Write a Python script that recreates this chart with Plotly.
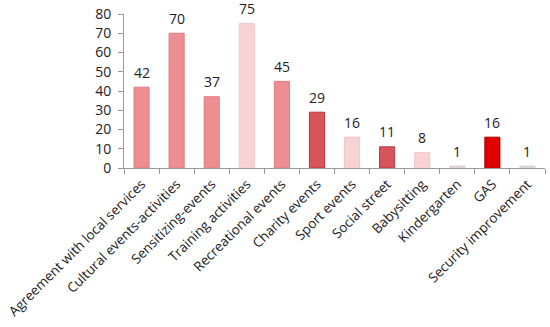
import plotly.graph_objects as go

categories = ["Agreement with local services", "Cultural events-activities", "Sensitizing-events",
              "Training activities", "Recreational events", "Charity events", "Sport events",
              "Social street", "Babysitting", "Kindergarten", "GAS", "Security improvement"]
values = [42, 70, 37, 75, 45, 29, 16, 11, 8, 1, 16, 1]
fill_colors = ["#EE8E92", "#EE8E92", "#EE8E92", "#F8D3D4", "#EE8E92", "#D6545A",
               "#F8D3D4", "#D6545A", "#F8D3D4", "#E6DCDC", "#E00000", "#E6DCDC"]
line_colors = ["#DC7C80", "#DC7C80", "#DC7C80", "#F0C6C7", "#DC7C80", "#B8393F",
               "#F0C6C7", "#B8393F", "#F0C6C7", "#D8CCCC", "#A00000", "#D8CCCC"]
y_ticks = [0, 10, 20, 30, 40, 50, 60, 70, 80]

fig = go.Figure()
fig.add_trace(go.Bar(x=categories, y=values, width=0.43,
                     marker=dict(color=fill_colors, line=dict(color=line_colors, width=1))))

for c, v in zip(categories, values):
    fig.add_annotation(x=c, y=v, text=str(v), showarrow=False, yanchor="middle", yshift=15,
                       font=dict(family="Open Sans", size=14, color="#222"))

fig.update_layout(
    width=550, height=327,
    margin=dict(l=124, r=5, t=14, b=159),
    plot_bgcolor="white", paper_bgcolor="white",
    showlegend=False,
    font=dict(family="Open Sans", color="#222"),
    bargap=0.57,
)
fig.update_yaxes(range=[0, 80], tickvals=y_ticks, showgrid=False, showline=True,
                 linecolor="#999", linewidth=1, ticks="outside", ticklen=5, tickcolor="#999",
                 tickfont=dict(size=14), zeroline=False, automargin=False,
                 ticklabeloverflow="allow", ticklabelstandoff=4)
fig.update_xaxes(showgrid=False, showline=True, linecolor="#999", linewidth=1,
                 ticks="outside", ticklen=5, tickcolor="#999", tickson="boundaries",
                 tickangle=-45, tickfont=dict(size=13.5), automargin=False,
                 ticklabeloverflow="allow", ticklabelstandoff=2)

fig.write_html("out.html", config={"displayModeBar": False},
               post_script="document.body.style.margin='0';")
